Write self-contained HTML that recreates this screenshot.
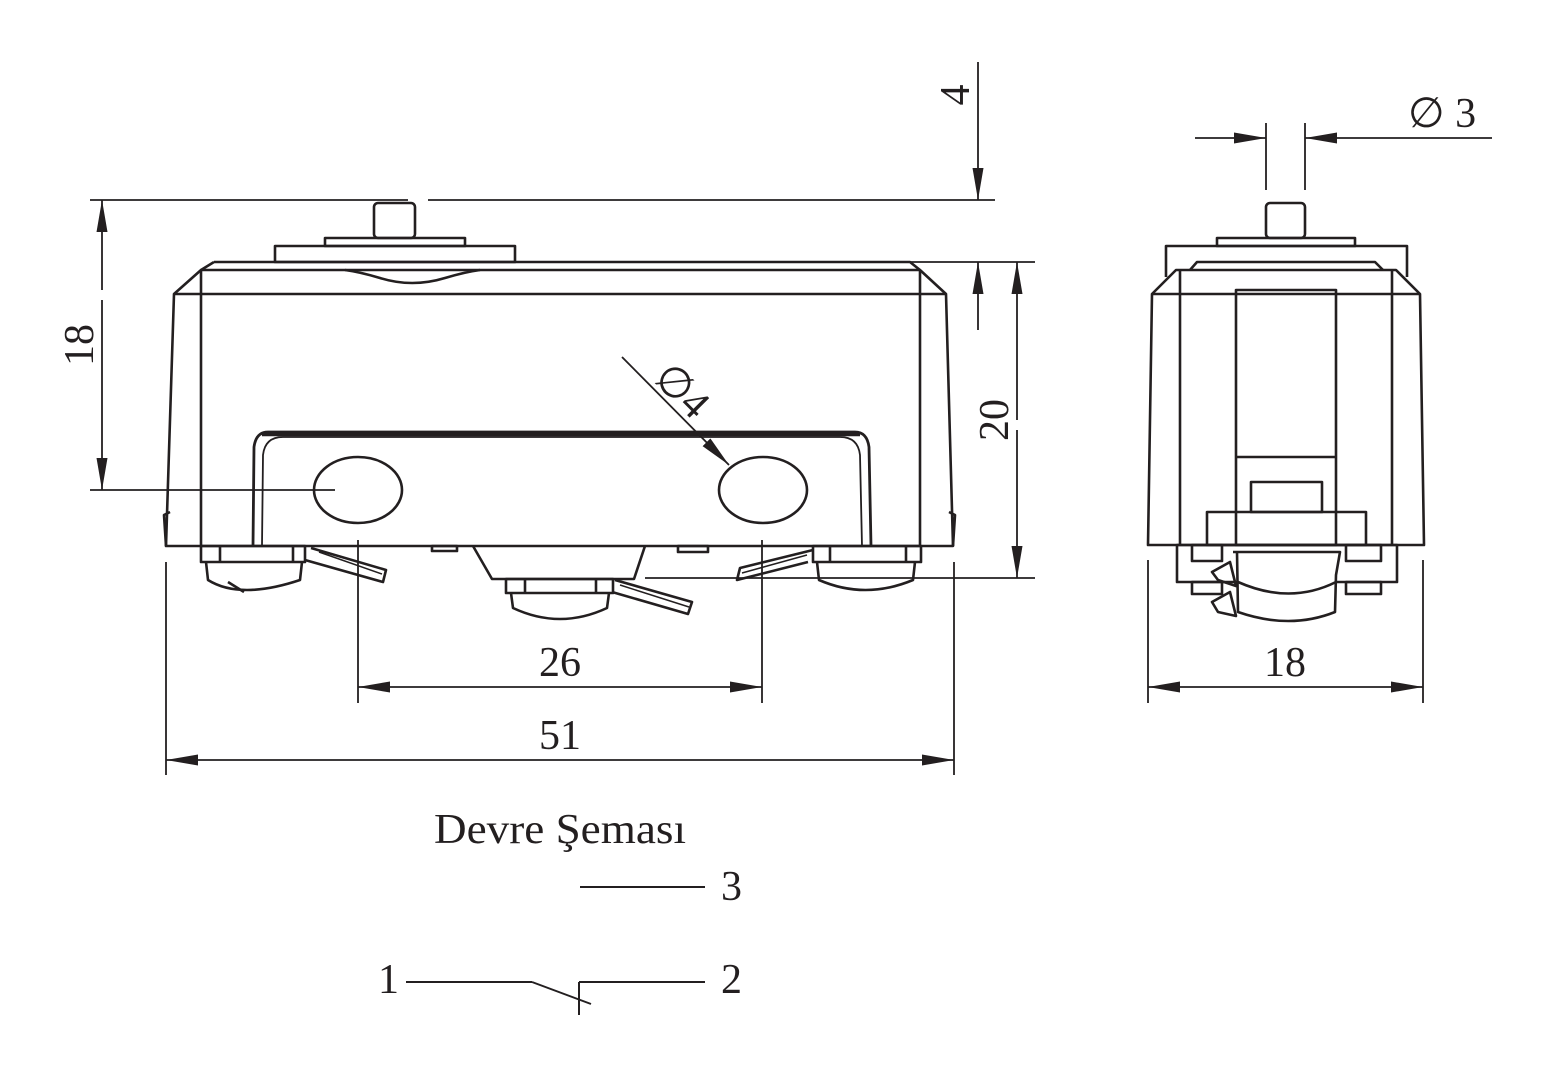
<!DOCTYPE html>
<html><head><meta charset="utf-8"><style>
html,body{margin:0;padding:0;background:#fff;}
svg{display:block;}
text{font-family:"Liberation Serif",serif;fill:#231f20;}
</style></head><body>
<svg width="1554" height="1076" viewBox="0 0 1554 1076" xmlns="http://www.w3.org/2000/svg">
<defs>
<marker id="a" viewBox="0 0 32 11" refX="32" refY="5.5" markerWidth="32" markerHeight="11" markerUnits="userSpaceOnUse" orient="auto-start-reverse"><path d="M0,0 L32,5.5 L0,11 Z" fill="#231f20"/></marker>
</defs>
<g fill="none" stroke="#231f20" stroke-width="2.6" stroke-linejoin="round">
<!-- MAIN VIEW -->
<rect x="374" y="203" width="41" height="35" rx="4"/>
<rect x="325" y="238" width="140" height="8"/>
<rect x="275" y="246" width="240" height="16"/>
<path d="M214,262 L910,262 L920,270 M214,262 L201,270"/>
<path d="M201,270 L920,270 L946,294 L953,546 L166,546 L174,294 Z"/>
<line x1="174" y1="294" x2="946" y2="294"/>
<line x1="201" y1="270" x2="201" y2="546"/>
<line x1="920" y1="270" x2="920" y2="546"/>
<path d="M345,270 Q360,272 380,278 Q412,288 445,278 Q465,272 480,270" />
<path d="M166,546 L164,515 L170,512"/><path d="M953,546 L955,515 L949,512"/>
<path d="M253,546 L254,447 Q256,432 268,432 L855,432 Q867,432 869,447 L871,546" stroke-width="2.8"/>
<path d="M262,546 L263,455 Q265,437 283,437 L840,437 Q858,437 860,455 L862,546" stroke-width="1.8"/>
<line x1="262" y1="434.5" x2="860" y2="434.5" stroke-width="3.4"/>
<ellipse cx="358" cy="490" rx="44" ry="33"/>
<ellipse cx="763" cy="490" rx="44" ry="33"/>
<!-- bottom parts -->
<rect x="201" y="546" width="104" height="16"/><line x1="220" y1="546" x2="220" y2="562"/><line x1="293" y1="546" x2="293" y2="562"/>
<path d="M206,562 L208,580 Q240,600 300,580 L302,562"/>
<path d="M228,582 L244,592"/>
<rect x="813" y="546" width="108" height="16"/><line x1="830" y1="546" x2="830" y2="562"/><line x1="906" y1="546" x2="906" y2="562"/>
<path d="M817,562 L819,580 Q865,600 913,580 L915,562"/>
<path d="M473,546 L492,579 L634,579 L645,546"/>
<rect x="506" y="579" width="107" height="14"/><line x1="525" y1="579" x2="525" y2="593"/><line x1="596" y1="579" x2="596" y2="593"/>
<path d="M511,593 L513,608 Q560,630 607,608 L609,593"/>
<path d="M311,548 L386,570 L383,582 L305,560" />
<path d="M319,552 L382,574" stroke-width="1.5"/>
<path d="M813,550 L740,568 L737,580 L808,562"/>
<path d="M807,555 L742,573" stroke-width="1.5"/>
<path d="M615,580 L692,602 L688,614 L612,592"/>
<path d="M620,585 L689,607" stroke-width="1.5"/>
<rect x="432" y="546" width="25" height="5"/><rect x="678" y="546" width="30" height="6"/>
<!-- SIDE VIEW -->
<rect x="1266" y="203" width="39" height="35" rx="4"/>
<rect x="1217" y="238" width="138" height="8"/>
<path d="M1166,277 L1166,246 L1407,246 L1407,277"/>
<path d="M1190,270 L1197,262 L1375,262 L1383,270"/>
<path d="M1176,270 L1396,270 L1420,294 L1424,545 L1148,545 L1152,294 Z"/>
<line x1="1152" y1="294" x2="1420" y2="294"/>
<line x1="1180" y1="270" x2="1180" y2="545"/><line x1="1392" y1="270" x2="1392" y2="545"/>
<rect x="1236" y="290" width="100" height="255"/>
<line x1="1236" y1="457" x2="1336" y2="457"/>
<rect x="1251" y="482" width="71" height="30"/>
<rect x="1207" y="512" width="159" height="33"/>
<rect x="1177" y="545" width="220" height="37"/>
<rect x="1192" y="545" width="30" height="16"/><rect x="1346" y="545" width="35" height="16"/>
<rect x="1192" y="582" width="30" height="12"/><rect x="1346" y="582" width="35" height="12"/>
<path d="M1233,552 L1340,552 L1336,575 L1335,612 Q1290,630 1238,612 L1237,552" fill="#fff"/>
<path d="M1238,582 Q1290,605 1336,582"/>
<path d="M1230,562 L1212,572 L1218,580 L1236,586 Z"/>
<path d="M1230,592 L1212,602 L1218,612 L1236,616 Z"/>
</g>
<!-- DIMENSIONS -->
<g fill="none" stroke="#231f20" stroke-width="1.8">
<line x1="90" y1="200" x2="408" y2="200"/><line x1="428" y1="200" x2="995" y2="200"/>
<line x1="90" y1="490" x2="335" y2="490"/>
<line x1="102" y1="290" x2="102" y2="200" marker-end="url(#a)"/>
<line x1="102" y1="300" x2="102" y2="490" marker-end="url(#a)"/>
<line x1="330" y1="262" x2="1035" y2="262"/>
<line x1="645" y1="578" x2="1035" y2="578"/>
<line x1="978" y1="62" x2="978" y2="200" marker-end="url(#a)"/>
<line x1="978" y1="330" x2="978" y2="262" marker-end="url(#a)"/>
<line x1="1017" y1="420" x2="1017" y2="262" marker-end="url(#a)"/>
<line x1="1017" y1="430" x2="1017" y2="578" marker-end="url(#a)"/>
<line x1="358" y1="540" x2="358" y2="703"/><line x1="762" y1="540" x2="762" y2="703"/>
<line x1="560" y1="687" x2="358" y2="687" marker-end="url(#a)"/>
<line x1="560" y1="687" x2="762" y2="687" marker-end="url(#a)"/>
<line x1="166" y1="562" x2="166" y2="775"/><line x1="954" y1="562" x2="954" y2="775"/>
<line x1="560" y1="760" x2="166" y2="760" marker-end="url(#a)"/>
<line x1="560" y1="760" x2="954" y2="760" marker-end="url(#a)"/>
<line x1="1148" y1="560" x2="1148" y2="703"/><line x1="1423" y1="560" x2="1423" y2="703"/>
<line x1="1285" y1="687" x2="1148" y2="687" marker-end="url(#a)"/>
<line x1="1285" y1="687" x2="1423" y2="687" marker-end="url(#a)"/>
<line x1="1266" y1="123" x2="1266" y2="190"/><line x1="1305" y1="123" x2="1305" y2="190"/>
<line x1="1195" y1="138" x2="1266" y2="138" marker-end="url(#a)"/>
<line x1="1492" y1="138" x2="1305" y2="138" marker-end="url(#a)"/>
<line x1="622" y1="357" x2="729" y2="465" marker-end="url(#a)"/>
<!-- circuit -->
<g stroke-width="2">
<line x1="580" y1="887" x2="705" y2="887"/>
<line x1="406" y1="982" x2="532" y2="982"/>
<line x1="532" y1="982" x2="591" y2="1004"/>
<line x1="579" y1="982" x2="579" y2="1015"/>
<line x1="579" y1="982" x2="705" y2="982"/>
</g>
</g>
<g font-size="42">
<text x="560" y="676" text-anchor="middle">26</text>
<text x="560" y="749" text-anchor="middle">51</text>
<text x="1285" y="676" text-anchor="middle">18</text>
<text transform="translate(93,345) rotate(-90)" text-anchor="middle">18</text>
<text transform="translate(969,95) rotate(-90)" text-anchor="middle">4</text>
<text transform="translate(1008,420) rotate(-90)" text-anchor="middle">20</text>
<text x="1408" y="127">∅ 3</text>
<text transform="translate(652,380) rotate(45)">∅4</text>
<text x="434" y="843" textLength="252" lengthAdjust="spacingAndGlyphs">Devre Şeması</text>
<text x="721" y="900">3</text>
<text x="378" y="993">1</text>
<text x="721" y="993">2</text>
</g>
</svg>
</body></html>
